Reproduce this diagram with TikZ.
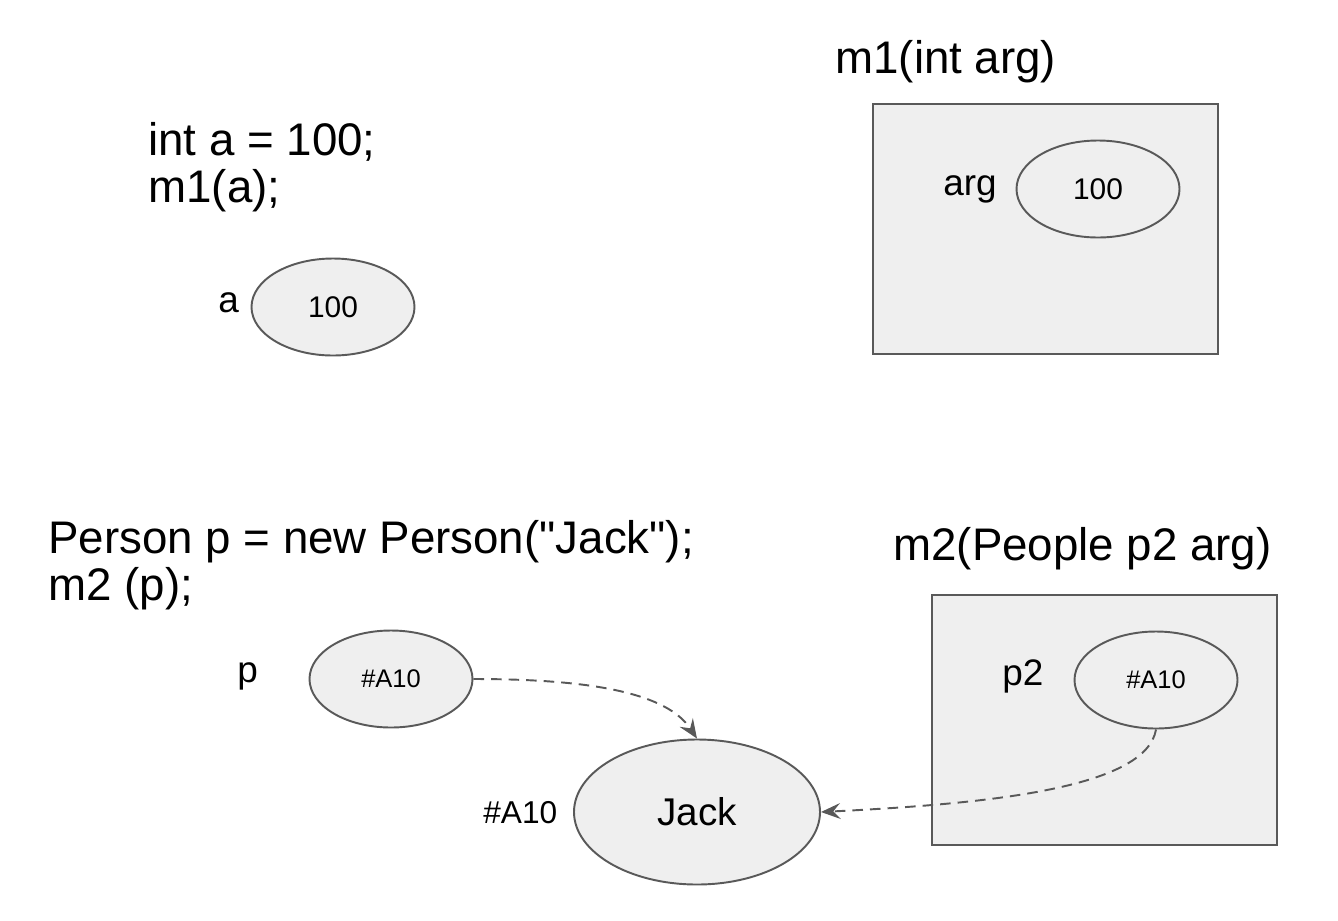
\documentclass[tikz,border=0pt]{standalone}
\usepackage{fontspec}
\setmainfont{Liberation Sans}
\usetikzlibrary{shapes.geometric,arrows.meta}
\definecolor{cellfill}{HTML}{EFEFEF}
\definecolor{cellline}{HTML}{595959}

\begin{document}
\begin{tikzpicture}
  [x=0.02cm,y=-0.02cm,
   code/.style={anchor=base west,inner sep=0,font=\fontsize{26}{30}\selectfont},
   lbl/.style={anchor=base west,inner sep=0,font=\fontsize{21}{25}\selectfont},
   cell/.style={ellipse,draw=cellline,fill=cellfill,line width=1.1pt,inner sep=0,
                minimum width=163*0.02cm,minimum height=97*0.02cm},
   frame/.style={rectangle,draw=cellline,fill=cellfill,line width=1.1pt,inner sep=0,
                 minimum width=345*0.02cm,minimum height=250*0.02cm},
   ref/.style={draw=cellline,line width=1.1pt,dash pattern=on 6pt off 4pt,
               -{Stealth[length=11pt,width=9pt,inset=4pt]}}]
  \useasboundingbox (0,0) rectangle (1338,920);

  % primitive value
  \node[code] (code1) at (148,155) {int a = 100;};
  \node[code] (code2) at (148,202) {m1(a);};
  \node[cell,font=\fontsize{17}{20}\selectfont] (aval) at (333,307) {100};
  \node[lbl] (alab) at (218,312) {a};

  \node[code] (m1title) at (835,73) {m1(int arg)};
  \node[frame] (m1box) at (1045.5,229) {};
  \node[cell,font=\fontsize{17}{20}\selectfont] (argval) at (1098,189) {100};
  \node[lbl] (arglab) at (943,195) {arg};

  % reference value
  \node[code] (code3) at (48,553) {Person p = new Person(\textquotedbl Jack\textquotedbl);};
  \node[code] (code4) at (48,600) {m2 (p);};
  \node[cell,font=\fontsize{14.5}{17}\selectfont] (pval) at (391,679) {\#A10};
  \node[lbl] (plab) at (237,682) {p};

  \node[code] (m2title) at (893,560) {m2(People p2 arg)};
  \node[frame] (m2box) at (1104.5,720) {};
  \node[cell,font=\fontsize{14.5}{17}\selectfont] (p2val) at (1156,680) {\#A10};
  \node[lbl] (p2lab) at (1002,685) {p2};

  \node[cell,minimum width=246*0.02cm,minimum height=145*0.02cm,
        font=\fontsize{22}{26}\selectfont] (jack) at (697,812) {Jack};
  \node[anchor=base west,inner sep=0,font=\fontsize{18}{22}\selectfont] (addr) at (483,823) {\#A10};

  \draw[ref] (pval.east) .. controls +(120,0) and +(-30,-45) .. (jack.north);
  \draw[ref] (p2val.south) .. controls +(-10,60) and +(160,-8) .. (jack.east);
\end{tikzpicture}
\end{document}
